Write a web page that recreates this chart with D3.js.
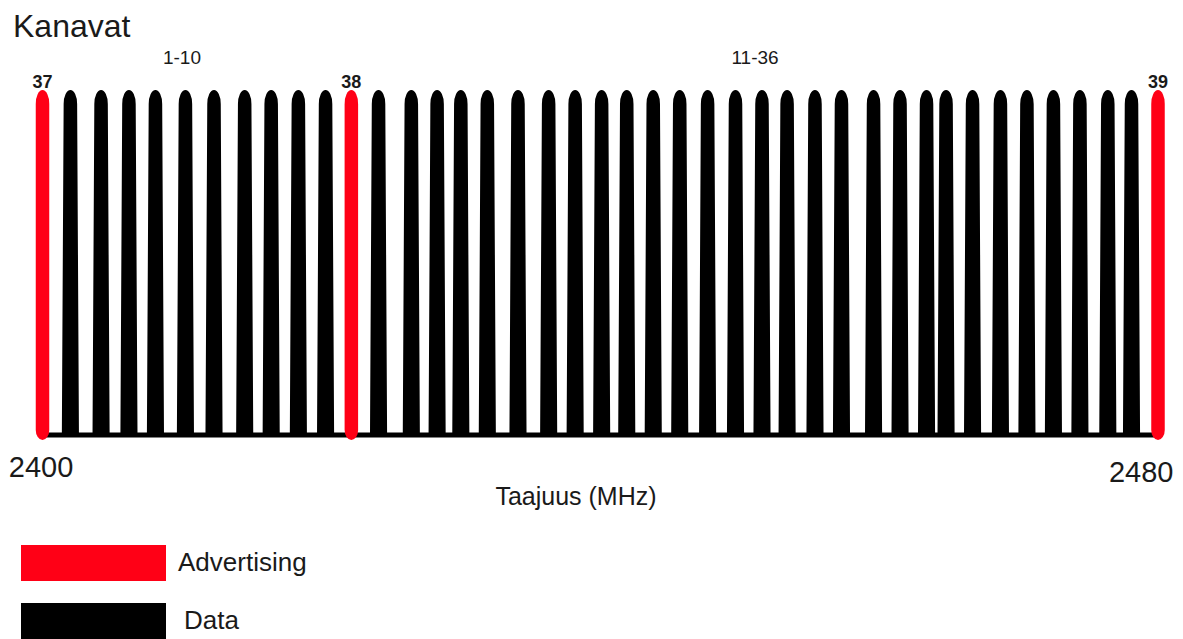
<!DOCTYPE html>
<html>
<head>
<meta charset="utf-8">
<script src="https://cdn.jsdelivr.net/npm/d3@7"></script>
<style>
  html, body { margin: 0; padding: 0; background: #fff; }
  svg { display: block; }
  text { font-family: "Liberation Sans", Arial, sans-serif; fill: #1a1a1a; }
</style>
</head>
<body>
<svg id="chart" width="1183" height="639"></svg>
<script>
// ---- data ----
const title = "Kanavat";
const axisTitle = "Taajuus (MHz)";
const axisTicks = [2400, 2480];
const advertisingChannels = ["37", "38", "39"];
const advertisingFreqs = [2400, 2422.15, 2480];
const dataFreqs = [
  2402.0, 2404.2, 2406.2, 2408.1, 2410.25, 2412.3, 2414.5, 2416.4, 2418.35, 2420.3,
  2424.1, 2426.45, 2428.3, 2430.0, 2431.9, 2434.1, 2436.3, 2438.2, 2440.1, 2441.9,
  2443.8, 2445.7, 2447.7, 2449.7, 2451.6, 2453.4, 2455.4, 2457.3, 2459.6, 2461.5,
  2463.4, 2464.8, 2466.7, 2468.7, 2470.6, 2472.5, 2474.4, 2476.4, 2478.1
];
const groupLabels = ["1-10", "11-36"];
const groupLabelFreqs = [2410.0, 2451.1];
const legendLabels = ["Advertising", "Data"];
const legendColors = ["#ff0016", "#000000"];

// ---- drawing ----
const svg = d3.select("#chart");
const x = d3.scaleLinear().domain([2400, 2480]).range([42.5, 1158]);
const y = d3.scaleLinear().domain([0, 1]).range([435, 90]);

const barW = 13.5, ry = 14;

function blackBar(f) {
  const cx = x(f), top = y(1), bottom = y(0), flare = 1.8, h = barW / 2;
  return `M${cx - h - flare},${bottom} L${cx - h},${top + ry} A${h},${ry} 0 0 1 ${cx + h},${top + ry} L${cx + h + flare},${bottom} Z`;
}
function redBar(f) {
  const cx = x(f), top = y(1), bottom = y(0) + 5, h = barW / 2, ryb = 10;
  return `M${cx - h},${bottom - ryb} L${cx - h},${top + ry} A${h},${ry} 0 0 1 ${cx + h},${top + ry} L${cx + h},${bottom - ryb} A${h},${ryb} 0 0 1 ${cx - h},${bottom - ryb} Z`;
}

// title
svg.append("text").attr("x", 13).attr("y", 37).attr("font-size", 32).text(title);

// data channels
svg.append("g").selectAll("path").data(dataFreqs).join("path")
  .attr("d", blackBar).attr("fill", legendColors[1]);

// baseline
svg.append("line")
  .attr("x1", x(2400)).attr("x2", x(2480))
  .attr("y1", y(0)).attr("y2", y(0))
  .attr("stroke", "#000").attr("stroke-width", 5);

// advertising channels
svg.append("g").selectAll("path").data(advertisingFreqs).join("path")
  .attr("d", redBar).attr("fill", legendColors[0]);

// channel numbers
svg.append("g").selectAll("text").data(advertisingFreqs).join("text")
  .attr("x", d => x(d)).attr("y", 88)
  .attr("text-anchor", "middle").attr("font-size", 18).attr("font-weight", "bold")
  .text((d, i) => advertisingChannels[i]);

// group labels
svg.append("g").selectAll("text").data(groupLabelFreqs).join("text")
  .attr("x", d => x(d)).attr("y", 64)
  .attr("text-anchor", "middle").attr("font-size", 19).attr("fill", "#333")
  .text((d, i) => groupLabels[i]);

// x axis tick labels
const axis = d3.axisBottom(x).tickValues(axisTicks).tickSize(0).tickFormat(d3.format("d"));
const ag = svg.append("g").attr("transform", `translate(0,${y(0)})`).call(axis);
ag.select(".domain").remove();
ag.selectAll("text")
  .attr("font-size", 29).attr("font-family", "Liberation Sans, Arial, sans-serif")
  .attr("fill", "#1a1a1a").attr("dy", 0).attr("y", 42)
  .attr("text-anchor", (d, i) => i === 0 ? "middle" : "end")
  .attr("dx", (d, i) => i === 0 ? -2 : 15);
ag.selectAll("text").filter((d, i) => i === 1).attr("y", 47);

// axis title
svg.append("text").attr("x", 576).attr("y", 505).attr("text-anchor", "middle")
  .attr("font-size", 25).text(axisTitle);

// legend
const legendY = [545, 603];
const legendTextX = [178, 184];
const lg = svg.append("g");
legendLabels.forEach((lab, i) => {
  lg.append("rect").attr("x", 21).attr("y", legendY[i]).attr("width", 145).attr("height", 36)
    .attr("fill", legendColors[i]);
  lg.append("text").attr("x", legendTextX[i]).attr("y", legendY[i] + 26)
    .attr("font-size", 26).text(lab);
});
</script>
</body>
</html>
